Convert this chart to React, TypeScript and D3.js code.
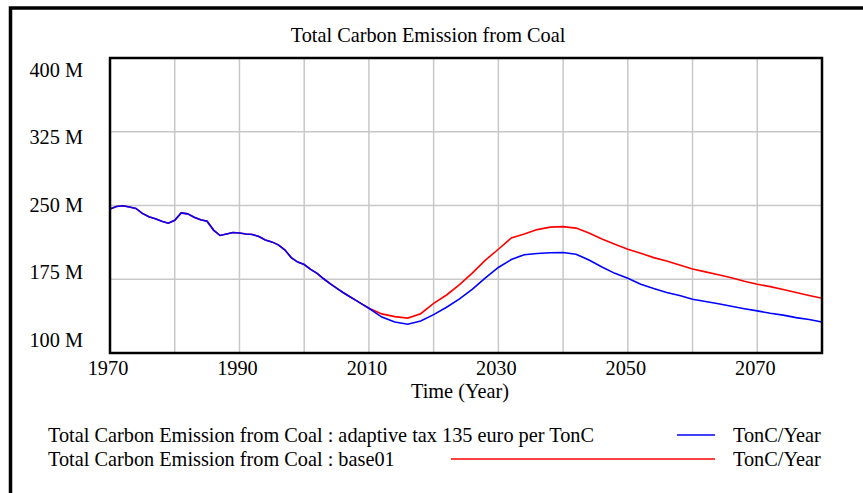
import { useEffect, useRef } from "react";
import * as d3 from "d3";

const years = [
  1970, 1971, 1972, 1973, 1974, 1975, 1976, 1977, 1978, 1979,
  1980, 1981, 1982, 1983, 1984, 1985, 1986, 1987, 1988, 1989,
  1990, 1991, 1992, 1993, 1994, 1995, 1996, 1997, 1998, 1999,
  2000, 2001, 2002, 2003, 2004, 2005, 2006, 2007, 2008, 2009,
  2010, 2012, 2014, 2016, 2018, 2020, 2022, 2024, 2026, 2028,
  2030, 2032, 2034, 2036, 2038, 2040, 2042, 2044, 2046, 2048,
  2050, 2052, 2054, 2056, 2058, 2060, 2062, 2064, 2066, 2068,
  2070, 2072, 2074, 2076, 2078, 2080,
];

// values in million TonC/Year
const adaptiveTax = [
  246.5, 249, 249.7, 248.5, 247, 242, 238.5, 236.5, 234, 232,
  235, 242.5, 241.5, 238, 235.5, 234, 225, 219.5, 221, 222.5,
  222, 221, 220.5, 218.5, 215, 213, 210, 205, 197, 192.5,
  190, 185, 181, 175.5, 170.5, 166, 161.5, 157.5, 153.5, 149.5,
  145.5, 136.5, 131.5, 129.2, 132.5, 139, 146.5, 155, 165, 176.5,
  187, 195, 200, 201.2, 202, 202.2, 200.5, 194.5, 187.5, 181,
  176, 170, 165.5, 161.5, 158.5, 154.7, 152.3, 150, 147.5, 145,
  142.8, 140.5, 138.5, 136, 134, 131.6,
];

const base01 = [
  246.5, 249, 249.7, 248.5, 247, 242, 238.5, 236.5, 234, 232,
  235, 242.5, 241.5, 238, 235.5, 234, 225, 219.5, 221, 222.5,
  222, 221, 220.5, 218.5, 215, 213, 210, 205, 197, 192.5,
  190, 185, 181, 175.5, 170.5, 166, 161.5, 157.5, 153.5, 149.5,
  145.5, 139.8, 137, 135.5, 140, 150.5, 159, 169.5, 181.5, 194.5,
  205.5, 217, 221, 225.5, 228, 228.5, 227, 222, 216, 210.5,
  205.5, 201.5, 197, 193.5, 189.5, 185.5, 182.5, 179.5, 176.5, 173,
  170, 167.5, 164.5, 161.5, 158.5, 155.7,
];

const yTicks = [400, 325, 250, 175, 100];
const xLabelTicks = [1970, 1990, 2010, 2030, 2050, 2070];
const xGridTicks = [1980, 1990, 2000, 2010, 2020, 2030, 2040, 2050, 2060, 2070];

const seriesNames = [
  "Total Carbon Emission from Coal : adaptive tax 135 euro per TonC",
  "Total Carbon Emission from Coal : base01",
];
const seriesColors = ["#0000ff", "#ff0000"];

export default function App() {
  const svgRef = useRef<SVGSVGElement>(null);

  useEffect(() => {
    if (!svgRef.current) return;
    const width = 863;
    const height = 493;
    const plot = { left: 110, right: 822, top: 58, bottom: 353 };
    const font = "'Liberation Serif', 'Times New Roman', serif";
    const fontSize = 20.3;

    const svg = d3.select(svgRef.current);
    svg.selectAll("*").remove();
    svg.attr("width", width).attr("height", height);

    svg.append("rect").attr("width", width).attr("height", height).attr("fill", "#fff");

    // outer frame (cut off on right and bottom)
    svg.append("path")
      .attr("d", `M10.5,${height} L10.5,8 L${width},8`)
      .attr("fill", "none")
      .attr("stroke", "#000")
      .attr("stroke-width", 3.5);

    const x = d3.scaleLinear().domain([1970, 2080]).range([plot.left, plot.right]);
    const y = d3.scaleLinear().domain([100, 400]).range([plot.bottom, plot.top]);
    // Vensim spaces the value labels evenly, independent of the grid
    const yLabel = d3.scaleLinear().domain([100, 400]).range([346.5, 76.5]);

    // grid
    svg.append("g")
      .selectAll("line")
      .data(xGridTicks)
      .enter()
      .append("line")
      .attr("x1", d => x(d))
      .attr("x2", d => x(d))
      .attr("y1", plot.top)
      .attr("y2", plot.bottom)
      .attr("stroke", "#c8c8c8")
      .attr("stroke-width", 1.5);

    svg.append("g")
      .selectAll("line")
      .data(yTicks.filter(d => d !== 100 && d !== 400))
      .enter()
      .append("line")
      .attr("x1", plot.left)
      .attr("x2", plot.right)
      .attr("y1", d => y(d))
      .attr("y2", d => y(d))
      .attr("stroke", "#c8c8c8")
      .attr("stroke-width", 1.5);

    // lines, base first so the blue run sits on top where they overlap
    const line = d3.line<number>()
      .x((_, i) => x(years[i]))
      .y(d => y(d));

    [base01, adaptiveTax].forEach((vals, k) => {
      svg.append("path")
        .datum(vals)
        .attr("d", line)
        .attr("fill", "none")
        .attr("stroke", k === 0 ? seriesColors[1] : seriesColors[0])
        .attr("stroke-width", 1.6);
    });

    // plot frame
    svg.append("rect")
      .attr("x", plot.left)
      .attr("y", plot.top)
      .attr("width", plot.right - plot.left)
      .attr("height", plot.bottom - plot.top)
      .attr("fill", "none")
      .attr("stroke", "#000")
      .attr("stroke-width", 2.5);

    // title
    svg.append("text")
      .attr("x", 428)
      .attr("y", 42)
      .attr("text-anchor", "middle")
      .attr("font-family", font)
      .attr("font-size", fontSize)
      .text("Total Carbon Emission from Coal");

    // y labels
    svg.append("g")
      .selectAll("text")
      .data(yTicks)
      .enter()
      .append("text")
      .attr("x", 83)
      .attr("y", d => yLabel(d))
      .attr("text-anchor", "end")
      .attr("font-family", font)
      .attr("font-size", fontSize)
      .text(d => `${d} M`);

    // x labels
    svg.append("g")
      .selectAll("text")
      .data(xLabelTicks)
      .enter()
      .append("text")
      .attr("x", d => x(d) - 2)
      .attr("y", 375)
      .attr("text-anchor", "middle")
      .attr("font-family", font)
      .attr("font-size", fontSize)
      .text(d => String(d));

    svg.append("text")
      .attr("x", 460)
      .attr("y", 398)
      .attr("text-anchor", "middle")
      .attr("font-family", font)
      .attr("font-size", fontSize)
      .text("Time (Year)");

    // legend
    const legendRows = [
      { y: 442, lineX1: 677 },
      { y: 466, lineX1: 451 },
    ];
    legendRows.forEach((row, i) => {
      svg.append("text")
        .attr("x", 48)
        .attr("y", row.y)
        .attr("font-family", font)
        .attr("font-size", fontSize)
        .text(seriesNames[i]);
      svg.append("line")
        .attr("x1", row.lineX1)
        .attr("x2", 715)
        .attr("y1", row.y - 7)
        .attr("y2", row.y - 7)
        .attr("stroke", seriesColors[i])
        .attr("stroke-width", 1.6);
      svg.append("text")
        .attr("x", 733)
        .attr("y", row.y)
        .attr("font-family", font)
        .attr("font-size", fontSize)
        .text("TonC/Year");
    });
  }, []);

  return (
    <div style={{ position: "absolute", left: 0, top: 0 }}>
      <svg ref={svgRef} style={{ display: "block" }} />
    </div>
  );
}
